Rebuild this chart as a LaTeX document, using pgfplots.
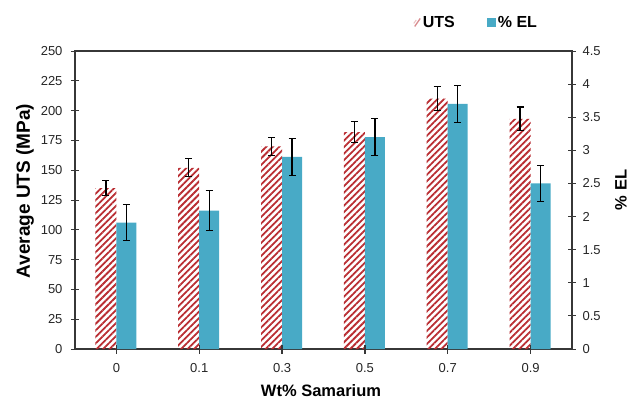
\documentclass[border=0pt]{standalone}
\usepackage{fontspec}
\setmainfont{Liberation Sans}
\usepackage{pgfplots}
\usepackage{pgfplotstable}
\pgfplotsset{compat=1.18}
\usetikzlibrary{patterns.meta}
\definecolor{utsred}{RGB}{185,45,50}
\definecolor{elblue}{RGB}{72,170,198}
\definecolor{axgray}{RGB}{55,55,55}

\pgfplotstableread{
x uts utserr el elerr
0 135 6.5 1.91 0.27
1 152 7.5 2.09 0.30
2 170 7.7 2.90 0.28
3 182 9.0 3.20 0.28
4 210 10.0 3.70 0.28
5 193 10.0 2.50 0.27
}\datatable

\pgfplotsset{
  myax/.style={
    scale only axis, width=497pt, height=298pt,
    at={(0pt,0pt)}, anchor=south west,
    xmin=-0.5, xmax=5.5, ymin=0,
    ybar, bar width=20pt,
    axis line style={axgray, line width=1.3pt},
    tick style={axgray, line width=1pt},
    major tick length=8pt, tick align=center,
    tick label style={font=\fontsize{13}{15}\selectfont, text=black!85},
    /pgf/number format/assume math mode=true,
    xtick=data,
    xticklabels={0,0.1,0.3,0.5,0.7,0.9},
    xticklabel style={yshift=-7pt},
    error bars/error bar style={black, line width=1.2pt},
    error bars/error mark options={black, line width=1.2pt, mark size=3.5pt, rotate=90},
  },
}

\begin{document}
\begin{tikzpicture}
\begin{axis}[myax,
    ymax=250, ytick={0,25,...,250},
    ytick pos=left, xtick pos=bottom,
    yticklabel style={xshift=-5pt},
    xlabel={\textbf{Wt\% Samarium}},
    xlabel style={font=\fontsize{16.5}{18}\selectfont, at={(axis description cs:0.495,-0.138)}, anchor=center},
    ylabel={\textbf{Average UTS (MPa)}},
    ylabel style={font=\fontsize{19}{21}\selectfont, at={(axis description cs:-0.1006,0.53)}, anchor=center},
  ]
  \addplot[bar width=21pt, bar shift=-10.5pt, draw=none,
    pattern={Lines[angle=45, distance=4.6pt, line width=1.8pt]}, pattern color=utsred,
    error bars/.cd, y dir=both, y explicit]
    table[x=x, y=uts, y error=utserr]{\datatable};
\end{axis}
\begin{axis}[myax,
    ymax=4.5, ytick={0,0.5,...,4.5},
    axis y line*=right, axis x line=none,
    yticklabel style={xshift=3pt},
    ylabel={\textbf{\% EL}},
    ylabel style={font=\fontsize{16.5}{18}\selectfont, at={(axis description cs:1.0986,0.534)}, anchor=center},
    legend columns=2,
    legend style={draw=none, fill=none, font=\bfseries\fontsize{16}{18}\selectfont,
      at={(axis description cs:0.94,1)}, anchor=south east, yshift=18pt,
      /tikz/every even column/.append style={column sep=30pt}},
  ]
  \addlegendimage{legend image code/.code={
      \draw[utsred!55, line width=1.3pt] (0.5pt,-4pt) -- (6pt,4pt);
      \draw[utsred!30, line width=1pt] (-0.5pt,-1pt) -- (2pt,2.5pt);}}
  \addlegendentry{UTS}
  \addplot[bar shift=10pt, draw=none, fill=elblue,
    legend image code/.code={\fill[elblue] (0pt,-4.5pt) rectangle (9pt,4.5pt);},
    error bars/.cd, y dir=both, y explicit]
    table[x=x, y=el, y error=elerr]{\datatable};
  \addlegendentry{\% EL}
\end{axis}
\begin{axis}[myax, ymax=250, axis lines=none, xtick=\empty, ytick=\empty, clip=false]
  % bottom ticks drawn above the bars, as in the reference
  \pgfplotsinvokeforeach{0,...,5}{\draw[axgray, line width=1.2pt] ([yshift=-4.5pt]axis cs:#1,0) -- ([yshift=4.5pt]axis cs:#1,0);}
\end{axis}
\pgfresetboundingbox
\path (-75pt,-51pt) rectangle (560pt,349pt);
\end{tikzpicture}
\end{document}
